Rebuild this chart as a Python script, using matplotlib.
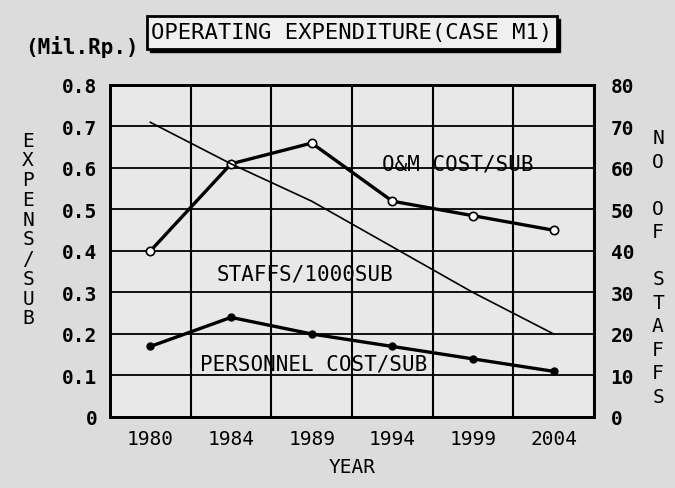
import numpy as np
import matplotlib
matplotlib.use("Agg")
import matplotlib.pyplot as plt
from matplotlib.patches import Rectangle

# data
years = ["1980", "1984", "1989", "1994", "1999", "2004"]
om_cost = [0.40, 0.61, 0.66, 0.52, 0.485, 0.45]          # Mil.Rp. per sub
personnel_cost = [0.17, 0.24, 0.20, 0.17, 0.14, 0.11]    # Mil.Rp. per sub
staffs = [71, 61, 52, 41, 30, 20]                        # staffs / 1000 sub

left_ticks = [0, 0.1, 0.2, 0.3, 0.4, 0.5, 0.6, 0.7, 0.8]
left_labels = ["0", "0.1", "0.2", "0.3", "0.4", "0.5", "0.6", "0.7", "0.8"]
right_ticks = [0, 10, 20, 30, 40, 50, 60, 70, 80]

mono = "DejaVu Sans Mono"
plt.rcParams["font.family"] = mono

fig = plt.figure(figsize=(6.75, 4.89), dpi=100)
fig.patch.set_facecolor("#dcdcdc")

ax = fig.add_axes([0.163, 0.1452, 0.717, 0.679])
ax.set_facecolor("#e8e8e8")
x = np.arange(len(years))

ax.plot(x, om_cost, "-", color="black", lw=2.4, marker="o", ms=6,
        mfc="white", mec="black", mew=1.2, zorder=3)
ax.plot(x, personnel_cost, "-", color="black", lw=2.4, marker="o", ms=5,
        mfc="black", mec="black", zorder=3)

ax.set_xlim(-0.5, 5.5)
ax.set_ylim(0, 0.8)
ax.set_xticks(x)
ax.set_xticklabels(years, fontsize=14)
ax.set_xticks(np.arange(-0.5, 6, 1), minor=True)
ax.set_yticks(left_ticks)
ax.set_yticklabels(left_labels, fontsize=14, fontweight="bold")
ax.tick_params(axis="x", which="both", length=0, pad=9)
ax.tick_params(axis="y", length=0, pad=9)
ax.grid(True, which="minor", axis="x", color="black", lw=1.5)
ax.grid(True, which="major", axis="y", color="black", lw=1.3)
for s in ax.spines.values():
    s.set_linewidth(2)

ax2 = ax.twinx()
ax2.plot(x, staffs, "-", color="black", lw=1.2, zorder=3)
ax2.set_ylim(0, 80)
ax2.set_yticks(right_ticks)
ax2.set_yticklabels([str(t) for t in right_ticks], fontsize=14, fontweight="bold")
ax2.tick_params(axis="y", length=0, pad=12)
for s in ax2.spines.values():
    s.set_linewidth(2)

# series labels
ax.text(3.81, 0.61, "O&M COST/SUB", fontsize=15, ha="center", va="center")
ax.text(1.92, 0.345, "STAFFS/1000SUB", fontsize=15, ha="center", va="center")
ax.text(2.02, 0.128, "PERSONNEL COST/SUB", fontsize=15, ha="center", va="center")

# axis captions
fig.text(352 / 675, 1 - 468 / 489, "YEAR", fontsize=14, ha="center", va="center")
fig.text(25 / 675, 1 - 47 / 489, "(Mil.Rp.)", fontsize=15, fontweight="bold",
         ha="left", va="center")
fig.text(28 / 675, 1 - 230 / 489, "\n".join("EXPENS/SUB"), fontsize=14,
         ha="center", va="center", linespacing=1.05)
fig.text(658 / 675, 1 - 268 / 489, "\n".join("NO OF STAFFS"), fontsize=14,
         ha="center", va="center", linespacing=1.3)

# title box with shadow
bx0, by0, bw, bh = 147 / 675, 1 - 50 / 489, 410 / 675, 33 / 489
fig.patches.append(Rectangle((bx0 + 3 / 675, by0 - 3 / 489), bw, bh,
                             transform=fig.transFigure, facecolor="black",
                             edgecolor="black", zorder=1))
fig.patches.append(Rectangle((bx0, by0), bw, bh, transform=fig.transFigure,
                             facecolor="#f0f0f0", edgecolor="black", lw=2, zorder=2))
fig.text(352 / 675, 1 - 33 / 489, "OPERATING EXPENDITURE(CASE M1)", fontsize=16,
         ha="center", va="center", zorder=3)

fig.savefig("out.png", dpi=100, facecolor=fig.get_facecolor())
